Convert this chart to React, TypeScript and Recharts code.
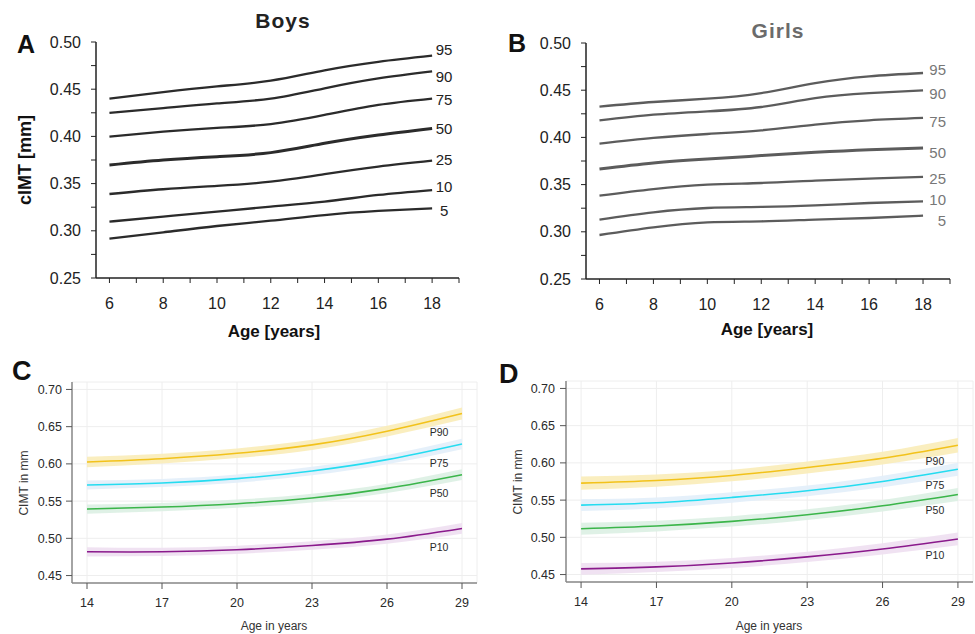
import React from "react";
import {
  ComposedChart,
  LineChart,
  Line,
  Area,
  XAxis,
  YAxis,
  CartesianGrid,
} from "recharts";

// ---- panels A/B: children 6–18 years ----
const youthAges = [6, 8, 10, 12, 14, 16, 18];
const youthPercentiles = ["95", "90", "75", "50", "25", "10", "5"];

const boys95 = [0.44, 0.447, 0.453, 0.459, 0.47, 0.479, 0.4855];
const boys90 = [0.425, 0.43, 0.435, 0.44, 0.451, 0.4615, 0.469];
const boys75 = [0.3997, 0.405, 0.409, 0.413, 0.4227, 0.4333, 0.44];
const boys50 = [0.3697, 0.375, 0.3785, 0.3828, 0.3927, 0.4015, 0.4085];
const boys25 = [0.339, 0.344, 0.3475, 0.352, 0.36, 0.368, 0.3743];
const boys10 = [0.3097, 0.315, 0.3203, 0.3256, 0.3309, 0.338, 0.3432];
const boys5 = [0.2917, 0.2984, 0.3051, 0.3107, 0.3167, 0.321, 0.3238];

const girls95 = [0.4326, 0.4375, 0.441, 0.447, 0.4576, 0.4647, 0.4682];
const girls90 = [0.4181, 0.4241, 0.4276, 0.4322, 0.4417, 0.447, 0.4499];
const girls75 = [0.3934, 0.3994, 0.4036, 0.4075, 0.4135, 0.4181, 0.4206];
const girls50 = [0.3665, 0.3729, 0.3771, 0.3807, 0.3842, 0.387, 0.3888];
const girls25 = [0.3383, 0.3453, 0.3499, 0.3517, 0.3542, 0.3563, 0.3581];
const girls10 = [0.3129, 0.3206, 0.3252, 0.3263, 0.328, 0.3305, 0.3323];
const girls5 = [0.2966, 0.3047, 0.31, 0.3111, 0.3129, 0.3146, 0.3171];

const youthXTicks = [6, 7, 8, 9, 10, 11, 12, 13, 14, 15, 16, 17, 18, 19];
const youthYTicks = [0.25, 0.275, 0.3, 0.325, 0.35, 0.375, 0.4, 0.425, 0.45, 0.475, 0.5];

// ---- panels C/D: 14–29 years ----
const adultAges = [14, 17, 20, 23, 26, 29];
const adultPercentiles = ["P90", "P75", "P50", "P10"];

const cP90 = [0.6026, 0.607, 0.6143, 0.6255, 0.6439, 0.6677];
const cP75 = [0.5716, 0.5743, 0.5802, 0.5905, 0.6057, 0.6268];
const cP50 = [0.5393, 0.542, 0.5465, 0.5541, 0.5671, 0.5855];
const cP10 = [0.4819, 0.4819, 0.4846, 0.4904, 0.4989, 0.5133];
// half width of the shaded band around each curve
const cP90Band = [0.007, 0.0065, 0.0065, 0.0068, 0.0072, 0.0082];
const cP75Band = [0.006, 0.0055, 0.0055, 0.0058, 0.0062, 0.007];
const cP50Band = [0.0062, 0.0055, 0.0055, 0.0058, 0.0062, 0.0072];
const cP10Band = [0.0062, 0.0055, 0.0055, 0.0058, 0.0062, 0.0072];

const dP90 = [0.5728, 0.5763, 0.583, 0.5938, 0.6063, 0.6237];
const dP75 = [0.5433, 0.5464, 0.5536, 0.5625, 0.575, 0.5915];
const dP50 = [0.5116, 0.5152, 0.5214, 0.5304, 0.5424, 0.5576];
const dP10 = [0.4576, 0.4603, 0.4656, 0.4737, 0.4844, 0.4978];
const dP90Band = [0.009, 0.0082, 0.0078, 0.008, 0.0085, 0.0098];
const dP75Band = [0.008, 0.0072, 0.007, 0.0072, 0.0078, 0.0088];
const dP50Band = [0.008, 0.0072, 0.007, 0.0072, 0.0078, 0.0088];
const dP10Band = [0.0078, 0.007, 0.0068, 0.007, 0.0076, 0.0086];

const adultXTicks = [14, 17, 20, 23, 26, 29];
const adultYTicks = [0.45, 0.5, 0.55, 0.6, 0.65, 0.7];

const adultColors: Record<string, { line: string; band: string }> = {
  P90: { line: "#f2c21b", band: "#faecb8" },
  P75: { line: "#25dcf0", band: "#e2eefa" },
  P50: { line: "#3bb54a", band: "#dcefe3" },
  P10: { line: "#8a1a8c", band: "#eedff1" },
};

const youthRows = (series: number[][]) =>
  youthAges.map((age, i) => {
    const row: Record<string, number> = { age };
    youthPercentiles.forEach((p, j) => (row[p] = series[j][i]));
    return row;
  });

const adultRows = (series: number[][], bands: number[][]) =>
  adultAges.map((age, i) => {
    const row: Record<string, any> = { age };
    adultPercentiles.forEach((p, j) => {
      row[p] = series[j][i];
      row[p + "band"] = [series[j][i] - bands[j][i], series[j][i] + bands[j][i]];
    });
    return row;
  });

const boysData = youthRows([boys95, boys90, boys75, boys50, boys25, boys10, boys5]);
const girlsData = youthRows([girls95, girls90, girls75, girls50, girls25, girls10, girls5]);
const cData = adultRows([cP90, cP75, cP50, cP10], [cP90Band, cP75Band, cP50Band, cP10Band]);
const dData = adultRows([dP90, dP75, dP50, dP10], [dP90Band, dP75Band, dP50Band, dP10Band]);

const SANS = "'Liberation Sans', Arial, sans-serif";

// nudges so the percentile numbers sit where they do in the figure
const boysLabelDy: Record<string, number> = { "95": -6, "90": 5, "75": 1, "50": 0, "25": -1, "10": -3, "5": 2 };
const girlsLabelDy: Record<string, number> = { "95": -3, "90": 3, "75": 4, "50": 5, "25": 2, "10": -2, "5": 5 };

const YouthPanel = ({
  data,
  lineColor,
  labelColor,
  labelDy,
  anchor,
  dx,
  margin,
  width,
}: any) => {
  const last = data.length - 1;
  return (
    <LineChart width={width} height={340} data={data} margin={margin}>
      <XAxis
        dataKey="age"
        type="number"
        domain={[5.5, 19]}
        ticks={youthXTicks}
        tickFormatter={(v: number) => (v % 2 === 0 ? String(v) : "")}
        interval={0}
        height={30}
        tickSize={5}
        tickMargin={15}
        stroke="#222"
        tick={{ fill: "#222", fontSize: 16, fontFamily: SANS }}
        axisLine={{ stroke: "#222", strokeWidth: 1.5 }}
      />
      <YAxis
        type="number"
        domain={[0.25, 0.5]}
        ticks={youthYTicks}
        tickFormatter={(v: number) => (Math.round(v * 1000) % 50 === 0 ? v.toFixed(2) : "")}
        interval={0}
        width={60}
        tickSize={5}
        tickMargin={10}
        stroke="#222"
        tick={{ fill: "#222", fontSize: 16, fontFamily: SANS }}
        axisLine={{ stroke: "#222", strokeWidth: 1.5 }}
      />
      {youthPercentiles.map((p) => (
        <Line
          key={p}
          dataKey={p}
          type="natural"
          stroke={lineColor}
          strokeWidth={p === "50" ? 3 : 2.3}
          dot={false}
          isAnimationActive={false}
          label={(props: any) =>
            props.index === last ? (
              <text
                key={p}
                x={props.x + dx}
                y={props.y + labelDy[p]}
                dy="0.35em"
                textAnchor={anchor}
                fontSize={15}
                fontFamily={SANS}
                fill={labelColor}
              >
                {p}
              </text>
            ) : null
          }
        />
      ))}
    </LineChart>
  );
};

const AdultPanel = ({ data, margin, labelDy, tickMargin }: any) => {
  const last = data.length - 1;
  return (
    <ComposedChart width={490} height={294} data={data} margin={margin}>
      <CartesianGrid stroke="#eeeeee" strokeWidth={1} />
      <XAxis
        dataKey="age"
        type="number"
        domain={[13.4, 29.6]}
        ticks={adultXTicks}
        interval={0}
        height={30}
        tickSize={6}
        tickMargin={9}
        stroke="#777"
        tick={{ fill: "#2a2a2a", fontSize: 12.5, fontFamily: SANS }}
        tickLine={{ stroke: "#555" }}
        axisLine={{ stroke: "#888", strokeWidth: 1.5 }}
      />
      <YAxis
        type="number"
        domain={[0.44, 0.71]}
        ticks={adultYTicks}
        tickFormatter={(v: number) => v.toFixed(2)}
        interval={0}
        width={60}
        tickSize={6}
        tickMargin={tickMargin}
        stroke="#777"
        tick={{ fill: "#2a2a2a", fontSize: 12.5, fontFamily: SANS }}
        tickLine={{ stroke: "#555" }}
        axisLine={{ stroke: "#888", strokeWidth: 1.5 }}
      />
      <XAxis
        xAxisId="frame"
        orientation="top"
        type="number"
        domain={[0, 1]}
        height={0}
        tick={false}
        tickLine={false}
        axisLine={{ stroke: "#888", strokeWidth: 1.5 }}
      />
      <YAxis
        yAxisId="frame"
        orientation="right"
        type="number"
        domain={[0, 1]}
        width={0}
        tick={false}
        tickLine={false}
        axisLine={{ stroke: "#888", strokeWidth: 1.5 }}
      />
      {adultPercentiles.map((p) => (
        <Area
          key={p + "band"}
          dataKey={p + "band"}
          type="natural"
          stroke="none"
          fill={adultColors[p].band}
          fillOpacity={0.9}
          isAnimationActive={false}
        />
      ))}
      {adultPercentiles.map((p) => (
        <Line
          key={p}
          dataKey={p}
          type="natural"
          stroke={adultColors[p].line}
          strokeWidth={1.6}
          dot={false}
          isAnimationActive={false}
          label={(props: any) =>
            props.index === last ? (
              <text
                key={p}
                x={props.x - 23}
                y={props.y + labelDy}
                dy="0.35em"
                textAnchor="middle"
                fontSize={10.5}
                fontFamily={SANS}
                fill="#2a2a2a"
              >
                {p}
              </text>
            ) : null
          }
        />
      ))}
    </ComposedChart>
  );
};

const abs = (left: number, top: number): React.CSSProperties => ({
  position: "absolute",
  left,
  top,
});

export default function App() {
  return (
    <div
      style={{
        position: "absolute",
        left: 0,
        top: 0,
        width: 975,
        height: 634,
        background: "#fff",
        overflow: "hidden",
      }}
    >
      <div style={abs(0, 0)}>
        <YouthPanel
          data={boysData}
          width={480}
          margin={{ top: 42, right: 21, bottom: 32, left: 36 }}
          lineColor="#2b2b2b"
          labelColor="#222"
          labelDy={boysLabelDy}
          anchor="middle"
          dx={12}
        />
      </div>
      <div style={abs(480, 0)}>
        <YouthPanel
          data={girlsData}
          width={495}
          margin={{ top: 43, right: 25, bottom: 31, left: 46 }}
          lineColor="#5c5c5c"
          labelColor="#777"
          labelDy={girlsLabelDy}
          anchor="end"
          dx={23}
        />
      </div>
      <div style={abs(0, 340)}>
        <AdultPanel data={cData} margin={{ top: 42, right: 13, bottom: 21, left: 12 }} labelDy={19} tickMargin={4} />
      </div>
      <div style={abs(485, 340)}>
        <AdultPanel data={dData} margin={{ top: 41, right: 2, bottom: 22, left: 21 }} labelDy={16} tickMargin={5} />
      </div>

      {/* panel letters, titles and axis titles */}
      <svg width={975} height={634} style={{ ...abs(0, 0), pointerEvents: "none" }} fontFamily={SANS}>
        <text x={17} y={53} fontSize={25} fontWeight="bold" fill="#111">A</text>
        <text x={508} y={52} fontSize={25} fontWeight="bold" fill="#111">B</text>
        <text x={12} y={380} fontSize={27} fontWeight="bold" fill="#111">C</text>
        <text x={499} y={383} fontSize={27} fontWeight="bold" fill="#111">D</text>

        <text x={283} y={28} fontSize={21} fontWeight="bold" letterSpacing={1} textAnchor="middle" fill="#222">Boys</text>
        <text x={778} y={38} fontSize={21} fontWeight="bold" letterSpacing={1} textAnchor="middle" fill="#6b6b6b">Girls</text>

        <text x={274} y={331} dy="0.35em" fontSize={17} fontWeight="bold" textAnchor="middle" fill="#111">Age [years]</text>
        <text x={767} y={329} dy="0.35em" fontSize={17} fontWeight="bold" textAnchor="middle" fill="#111">Age [years]</text>
        <text x={25} y={160} dy="0.35em" fontSize={18} fontWeight="bold" textAnchor="middle" fill="#111" transform="rotate(-90 25 160)">cIMT [mm]</text>

        <text x={274} y={626} dy="0.35em" fontSize={12} textAnchor="middle" fill="#333">Age in years</text>
        <text x={769} y={626} dy="0.35em" fontSize={12} textAnchor="middle" fill="#333">Age in years</text>
        <text x={24} y={483} dy="0.35em" fontSize={12} textAnchor="middle" fill="#333" transform="rotate(-90 24 483)">CIMT in mm</text>
        <text x={518} y={482} dy="0.35em" fontSize={12} textAnchor="middle" fill="#333" transform="rotate(-90 518 482)">CIMT in mm</text>
      </svg>
    </div>
  );
}
